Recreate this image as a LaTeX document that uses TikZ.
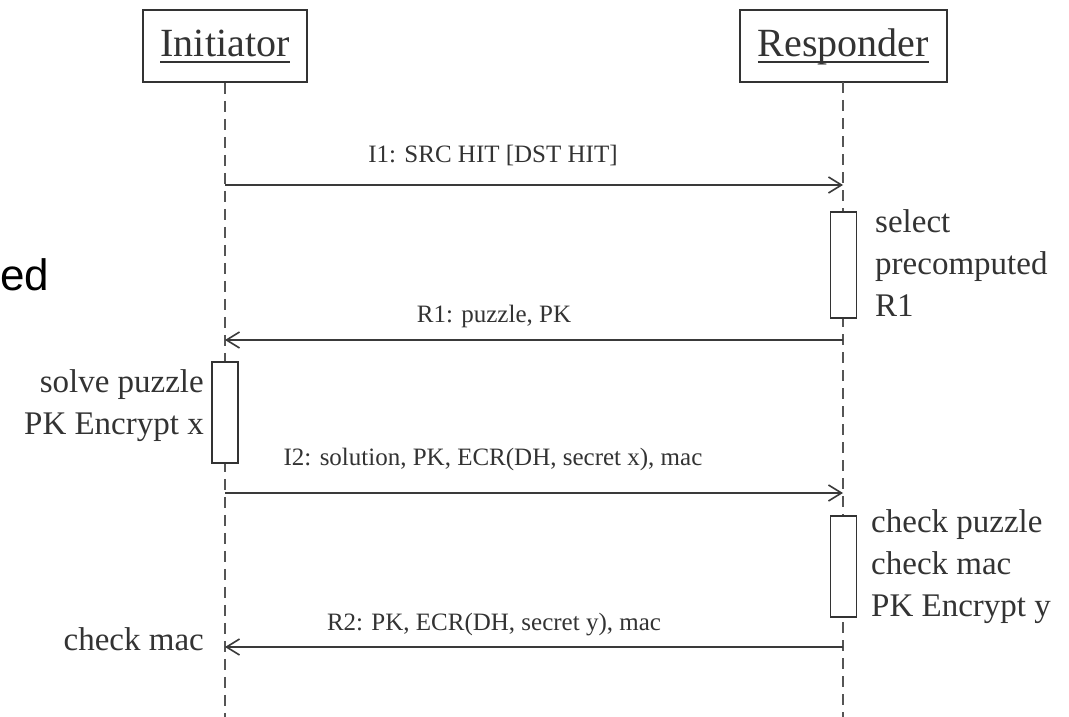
\documentclass[tikz,border=0pt]{standalone}
\usepackage{fontspec}
\setmainfont{Liberation Serif}
\newfontfamily\edfont{Liberation Sans}
\usetikzlibrary{arrows.meta}
\definecolor{ink}{HTML}{333333}
\definecolor{lineink}{HTML}{3a3a3a}
\definecolor{dashink}{HTML}{555555}
\begin{document}
\begin{tikzpicture}[x=1pt,y=-1pt,
  titlebox/.style={draw=ink, line width=1.8pt, minimum height=72pt, inner sep=0pt, fill=white},
  titletext/.style={text=ink, inner sep=0pt, font=\fontsize{40}{48}\selectfont},
  lifeline/.style={draw=dashink, line width=1.8pt, dash pattern=on 11pt off 7pt},
  msg/.style={draw=lineink, line width=1.8pt, -{Straight Barb[length=13pt,width=16pt,line width=1.6pt]}},
  msglabel/.style={text=ink, inner sep=0pt, anchor=base, font=\fontsize{25}{30}\selectfont},
  act/.style={draw=ink, line width=1.8pt, fill=white, minimum width=26pt, inner sep=0pt},
  sidetext/.style={text=ink, inner sep=0pt, font=\fontsize{33}{42}\selectfont},
]
\useasboundingbox[fill=white] (0,0) rectangle (1069,717);

% fragment at left edge
\node[anchor=base west, inner sep=0pt, font=\edfont\fontsize{44}{52}\selectfont] (frag) at (0,290) {ed};

% title boxes
\node[titlebox, minimum width=164pt] (initbox) at (225,46) {};
\node[titlebox, minimum width=207pt] (respbox) at (843.5,46) {};
\node[titletext, anchor=base] (initlbl) at (225,57) {Initiator};
\node[titletext, anchor=base] (resplbl) at (843.5,57) {Responder};
\draw[draw=ink, line width=1.6pt] ([yshift=-5pt]initlbl.base west) -- ([yshift=-5pt]initlbl.base east);
\draw[draw=ink, line width=1.6pt] ([yshift=-5pt]resplbl.base west) -- ([yshift=-5pt]resplbl.base east);

% lifelines
\coordinate (iend) at (225,717);
\coordinate (rend) at (843,717);
\draw[lifeline] (initbox.south) -- (iend);
\draw[lifeline] (843,82) -- (rend);

% activation boxes
\node[act, minimum height=106pt] (act1) at (843.5,265) {};
\node[act, minimum height=101pt] (act2) at (225,412.5) {};
\node[act, minimum height=101pt] (act3) at (843.5,566.5) {};

% message end points
\coordinate (m1a) at (225,185); \coordinate (m1b) at (843,185);
\coordinate (m2a) at (843,340); \coordinate (m2b) at (225,340);
\coordinate (m3a) at (225,493); \coordinate (m3b) at (843,493);
\coordinate (m4a) at (843,647); \coordinate (m4b) at (225,647);

\draw[msg] (m1a) -- (m1b);
\draw[msg] (m2a) -- (m2b);
\draw[msg] (m3a) -- (m3b);
\draw[msg] (m4a) -- (m4b);

\node[msglabel] (l1) at (493,162) {I1: SRC HIT [DST HIT]};
\node[msglabel] (l2) at (494,322) {R1: puzzle, PK};
\node[msglabel] (l3) at (493,465) {I2: solution, PK, ECR(DH, secret x), mac};
\node[msglabel] (l4) at (494,630) {R2: PK, ECR(DH, secret y), mac};

% side texts (base anchor = baseline of last line)
\node[sidetext, anchor=base west, align=left] (sel) at (875,316) {select\\precomputed\\R1};
\node[sidetext, anchor=base east, align=right] (solve) at (204,434) {solve puzzle\\PK Encrypt x};
\node[sidetext, anchor=base west, align=left] (chk) at (871,616) {check puzzle\\check mac\\PK Encrypt y};
\node[sidetext, anchor=base east] (imac) at (204,650) {check mac};
\end{tikzpicture}
\end{document}
